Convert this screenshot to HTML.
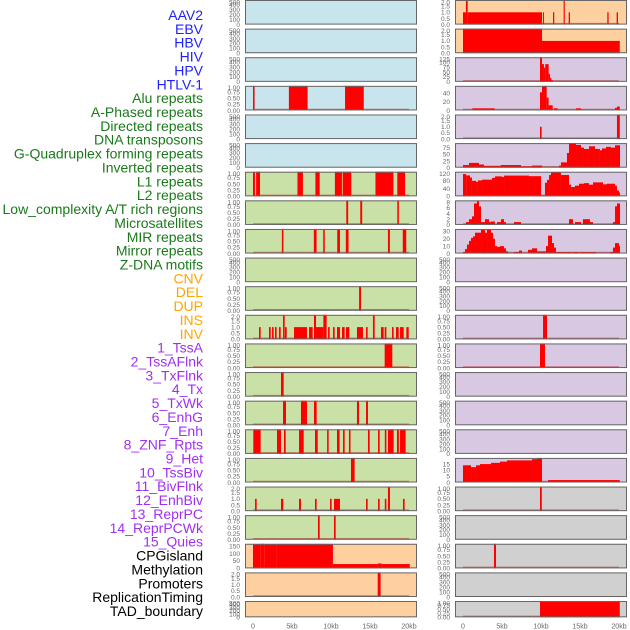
<!DOCTYPE html>
<html><head><meta charset="utf-8"><style>
body{margin:0;background:#fff;width:630px;height:630px;overflow:hidden}
svg{display:block}
.lab{font-family:"Liberation Sans",sans-serif;font-size:14px}
.tk{font-family:"Liberation Sans",sans-serif;font-size:6.5px;fill:#666}
.ax{font-family:"Liberation Sans",sans-serif;font-size:7px;fill:#666}
</style></head><body>
<svg id="chart" width="630" height="630" xmlns="http://www.w3.org/2000/svg"></svg>
<script>
// ---- data ----
const trackLabels = ["AAV2","EBV","HBV","HIV","HPV","HTLV-1","Alu repeats","A-Phased repeats","Directed repeats","DNA transposons","G-Quadruplex forming repeats","Inverted repeats","L1 repeats","L2 repeats","Low_complexity A/T rich regions","Microsatellites","MIR repeats","Mirror repeats","Z-DNA motifs","CNV","DEL","DUP","INS","INV","1_TssA","2_TssAFlnk","3_TxFlnk","4_Tx","5_TxWk","6_EnhG","7_Enh","8_ZNF_Rpts","9_Het","10_TssBiv","11_BivFlnk","12_EnhBiv","13_ReprPC","14_ReprPCWk","15_Quies","CPGisland","Methylation","Promoters","ReplicationTiming","TAD_boundary"];
const labelGroups = ["virus","virus","virus","virus","virus","virus","rep","rep","rep","rep","rep","rep","rep","rep","rep","rep","rep","rep","rep","sv","sv","sv","sv","sv","hmm","hmm","hmm","hmm","hmm","hmm","hmm","hmm","hmm","hmm","hmm","hmm","hmm","hmm","hmm","oth","oth","oth","oth","oth"];
const xTickValues = [0,5,10,15,20];
const xTickLabels = ["0","5kb","10kb","15kb","20kb"];
const T500 = ["0","100","200","300","400","500"];
const T1 = ["0.00","0.25","0.50","0.75","1.00"];
const T2 = ["0.0","0.5","1.0","1.5","2.0"];

// segments: [startKb, endKb, value]
const L4 = [[0,0.2,1],[4.6,7.0,1],[11.8,14.2,1]];
const L7 = [[0,0.25,1],[0.4,0.9,1],[5.7,6.4,1],[8.0,8.55,1],[10.5,11.4,1],[11.5,12.6,1],[15.7,18.0,1],[18.5,19.5,1]];
const L8 = [[11.96,12.2,1],[13.75,14.0,1],[18.5,18.7,1]];
const L9 = [[3.7,3.9,1],[7.8,8.15,1],[9.0,9.2,1],[10.8,11.15,1],[11.9,12.25,1],[17.3,17.55,1],[19.2,19.65,1]];
const L11 = [[13.6,13.85,1]];
const L12 = [[0.77,0.98,1],[2.05,2.27,1],[2.44,2.65,1],[2.82,3.03,1],[3.33,3.55,1],[3.85,4.06,2],[4.1,4.32,1],[5.26,6.92,1],[7.18,7.65,1],[7.82,8.08,2],[8.08,9.02,1],[9.02,9.44,2],[9.62,9.83,1],[10.26,10.47,1],[10.77,11.15,1],[11.41,11.75,1],[11.92,12.35,1],[13.33,14.1,1],[14.49,14.7,1],[15.38,15.6,2],[16.41,16.75,1],[16.88,17.1,1],[17.82,18.03,1],[18.33,18.68,1],[18.85,19.32,1],[19.66,19.96,1]];
const L13 = [[16.88,17.86,1]];
const L14 = [[3.59,3.93,1]];
const L15 = [[3.85,4.23,1],[6.15,6.92,1],[7.82,8.16,1],[13.33,13.59,1],[14.49,14.74,1]];
const L16 = [[0.04,0.98,1],[3.08,3.59,1],[3.97,4.19,1],[5.9,6.5,1],[7.95,8.3,1],[9.5,9.7,1],[10.77,11.1,1],[11.54,11.75,1],[12.3,12.5,1],[14.74,14.96,1],[16.03,16.24,1],[16.9,17.1,1],[17.3,18.03,1],[18.46,18.7,1],[18.85,19.57,1]];
const L17 = [[12.56,13.03,1]];
const L18 = [[0.26,0.47,1],[3.59,3.89,1],[5.9,6.15,1],[7.95,8.16,1],[9.87,10.08,1],[10.38,11.15,1],[14.49,14.7,1],[16.03,16.24,1],[16.9,17.1,1],[17.3,17.56,2],[19.23,19.44,1]];
const L19 = [[8.33,8.55,1],[10.38,10.6,1]];
const L20 = [[0,1.0,160],[1.0,1.5,165],[1.5,3.0,160],[3.0,10.25,164],[10.25,16.0,29],[16.0,16.5,33],[16.5,20.1,29]];
const L21 = [[15.99,16.36,2]];
const R1 = [[0,0.38,1],[0.38,0.6,2],[0.6,10.13,1],[10.26,10.38,1],[11.54,11.7,1],[12.9,13.05,2],[13.55,13.72,1],[18.5,18.67,1],[19.7,19.87,1]];
const R2 = [[0,10.13,2],[10.13,20.1,1]];
const R3 = [[9.87,10.13,125],[10.13,10.38,90],[10.38,10.55,72],[10.55,10.98,90],[10.98,11.15,40],[11.15,11.32,20],[11.32,11.5,10]];
const R4 = [[1.2,4.06,5],[9.87,10.13,42],[10.13,10.73,57],[10.73,10.98,30],[10.98,11.5,12],[11.67,12.14,5],[14.49,15.13,5],[19.49,19.74,6],[19.74,20.1,9]];
const R5 = [[9.87,10.08,1],[19.74,20.1,2]];
const R6 = [[0,0.77,10],[0.77,2.05,18],[2.05,2.69,12],[2.69,4.83,7],[4.83,7.44,10],[7.44,8.85,5],[8.85,10.13,8],[12.31,12.56,8],[12.56,13.33,20],[13.33,13.59,55],[13.59,14.49,92],[14.49,15.13,85],[15.13,15.51,75],[15.51,16.15,70],[16.15,16.92,80],[16.92,17.56,70],[17.56,17.82,65],[17.82,18.33,72],[18.33,18.97,78],[18.97,19.49,75],[19.49,20.13,84]];
const R7 = [[0,0.4,115],[0.4,0.9,108],[0.9,1.15,97],[1.15,1.67,80],[1.67,1.92,75],[1.92,2.44,82],[2.44,3.72,86],[3.72,4.1,95],[4.1,5.0,103],[5.0,5.26,100],[5.26,8.46,107],[8.46,10.0,104],[10.0,10.51,5],[10.51,10.77,70],[10.77,11.03,85],[11.03,11.28,110],[11.28,12.56,125],[12.56,13.59,110],[13.59,13.85,60],[13.85,14.36,48],[14.36,14.87,55],[14.87,15.51,65],[15.51,16.15,68],[16.15,16.67,60],[16.67,17.95,72],[17.95,18.46,62],[18.46,19.49,65],[19.49,19.74,55],[19.74,20.0,30],[20.0,20.13,20]];
const R8 = [[0.38,0.77,1],[0.77,1.15,2],[1.15,1.41,3],[1.41,1.79,7.5],[1.79,2.05,8.5],[2.05,2.31,6.5],[2.31,2.82,1],[2.82,3.33,2],[3.33,3.59,1],[3.59,4.1,1.2],[4.36,4.87,1],[4.87,5.26,2],[5.26,5.51,1],[6.54,7.44,1],[13.59,14.1,2],[14.36,15.13,1],[15.38,16.28,2],[16.28,16.67,1],[19.23,19.74,1],[19.74,20.1,2.2],[19.49,19.74,6.5],[19.74,20.13,7.5]];
const R9 = [[0,0.26,2],[0.26,0.51,6],[0.51,0.77,12],[0.77,1.03,17],[1.03,1.28,21],[1.28,1.54,23],[1.54,2.31,28],[2.31,2.82,32],[2.82,3.08,28],[3.08,3.59,32],[3.59,3.85,28],[3.85,4.1,20],[4.1,4.36,10],[4.36,4.74,9],[4.74,5.26,10],[5.26,5.51,7],[5.51,5.77,3],[6.54,7.18,2],[7.18,7.56,4],[8.33,8.85,5],[8.85,9.49,7],[9.49,10.64,3],[10.64,10.9,10],[10.9,11.41,24],[11.41,11.67,14],[11.67,11.92,8],[11.92,13.85,2],[13.97,14.87,2],[15.0,17.05,2],[18.85,19.23,2],[19.23,19.49,8],[19.49,20.0,14],[20.0,20.13,10]];
const R12 = [[10.26,10.77,1]];
const R13 = [[9.87,10.51,1]];
const R17 = [[0,1.03,14],[1.03,1.67,12.5],[1.67,2.18,14],[2.18,3.59,15],[3.59,4.74,16],[4.74,5.64,17],[5.64,6.92,18],[6.92,8.85,18],[8.85,9.49,19],[9.49,10.13,20],[10.9,20.1,2]];
const R18 = [[9.87,10.1,1]];
const R20 = [[3.97,4.23,1]];
const R22 = [[9.87,20.1,1]];

// panel specs: [col,row,bg,ticks,tickValues,max,data]
const BLUE="#c8e4ec",GREEN="#c9e1a6",ORANGE="#fed0a0",PURPLE="#d8c8e2",GREY="#d0d0d0";
const panels = [
 [0,0,BLUE,T500,null,500,null],[0,1,BLUE,T500,null,500,null],[0,2,BLUE,T500,null,500,null],
 [0,3,BLUE,T1,null,1,L4],[0,4,BLUE,T500,null,500,null],[0,5,BLUE,T500,null,500,null],
 [0,6,GREEN,T1,null,1,L7],[0,7,GREEN,T1,null,1,L8],[0,8,GREEN,T1,null,1,L9],[0,9,GREEN,T500,null,500,null],
 [0,10,GREEN,T1,null,1,L11],[0,11,GREEN,T2,null,2,L12],[0,12,GREEN,T1,null,1,L13],[0,13,GREEN,T1,null,1,L14],
 [0,14,GREEN,T1,null,1,L15],[0,15,GREEN,T1,null,1,L16],[0,16,GREEN,T1,null,1,L17],[0,17,GREEN,T2,null,2,L18],
 [0,18,GREEN,T1,null,1,L19],[0,19,ORANGE,["0","50","100","150"],[0,50,100,150],165,L20],[0,20,ORANGE,T2,null,2,L21],[0,21,ORANGE,T500,null,500,null],
 [1,0,ORANGE,T2,null,2,R1],[1,1,ORANGE,T2,null,2,R2],[1,2,PURPLE,["0","25","50","75","100","125"],[0,25,50,75,100,125],125,R3],
 [1,3,PURPLE,["0","20","40"],[0,20,40],57,R4],[1,4,PURPLE,T2,null,2,R5],[1,5,PURPLE,["0","25","50","75"],[0,25,50,75],92,R6],
 [1,6,PURPLE,["0","40","80","120"],[0,40,80,120],127,R7],[1,7,PURPLE,["0","2","4","6","8"],[0,2,4,6,8],8.6,R8],
 [1,8,PURPLE,["0","10","20","30"],[0,10,20,30],33,R9],[1,9,PURPLE,T500,null,500,null],[1,10,PURPLE,T500,null,500,null],
 [1,11,PURPLE,T1,null,1,R12],[1,12,PURPLE,T1,null,1,R13],[1,13,PURPLE,T500,null,500,null],[1,14,PURPLE,T500,null,500,null],
 [1,15,PURPLE,T500,null,500,null],[1,16,PURPLE,["0","5","10","15"],[0,5,10,15],20,R17],[1,17,GREY,T1,null,1,R18],
 [1,18,GREY,T500,null,500,null],[1,19,GREY,T1,null,1,R20],[1,20,GREY,T500,null,500,null],[1,21,GREY,T1,null,1,R22]
];

// ---- drawing ----
const NS="http://www.w3.org/2000/svg";
const svg=document.getElementById("chart");
function el(tag,attrs,parent){const e=document.createElementNS(NS,tag);for(const k in attrs)e.setAttribute(k,attrs[k]);(parent||svg).appendChild(e);return e;}
const colLeft=[245,455], panelW=172, zeroX=[253,463], kbPx=7.8;
const pitch=28.62, ph=24.6;
function xScale(col,kb){return zeroX[col]+kb*kbPx;}
function rowTop(r){return r*pitch;}
function rowH(r){return r===21?16.3:ph;}
const groupColor={virus:"#1f1fff",rep:"#1a7a1a",sv:"#ffa500",hmm:"#a030f0",oth:"#000"};

const labG=el("g",{});


trackLabels.forEach((t,i)=>{
  const tx=el("text",{x:203,y:15+i*13.86+5,"text-anchor":"end",class:"lab",fill:groupColor[labelGroups[i]]},labG);
  tx.textContent=t;
  
  
});

panels.forEach((p,pi)=>{
  const [col,row,bg,ticks,tvals,max,data]=p;
  const top=rowTop(row),h=rowH(row),bot=top+h,x0=colLeft[col];
  const g=el("g",{});
  
  
  const yS=v=>bot-v/max*h;
  el("rect",{x:x0,y:top,width:panelW,height:h,fill:bg},g);
  if(data){
    const bl=el("line",{x1:xScale(col,0),x2:xScale(col,20),y1:bot-1,y2:bot-1,stroke:"rgba(170,40,40,0.55)","stroke-width":1.5},g);
    
    
    data.forEach(d=>{
      const xa=xScale(col,d[0]),xb=xScale(col,d[1]),y=Math.max(yS(d[2]),top);
      const r=el("rect",{x:xa,y:y,width:Math.max(xb-xa,1),height:bot-y,fill:"#ff0000"},g);
      
      
    });
  }
  const fr=el("rect",{x:x0+0.5,y:top+0.5,width:panelW-1,height:h-1,fill:"none",stroke:"#666","stroke-width":1},g);
  
  
  ticks.forEach((t,i)=>{
    const v=tvals?tvals[i]:(i/(ticks.length-1))*max;
    const ty=Math.max(yS(v),top+2);
    const tt=el("text",{x:x0-5,y:ty+2.3,"text-anchor":"end",class:"tk"},g);
    tt.textContent=t;
    
    
  });
});

[0,1].forEach(col=>{
  xTickValues.forEach((v,i)=>{
    const t=el("text",{x:xScale(col,v),y:628.5,"text-anchor":"middle",class:"ax"});
    t.textContent=xTickLabels[i];
    
    
  });
});
</script>
</body></html>
